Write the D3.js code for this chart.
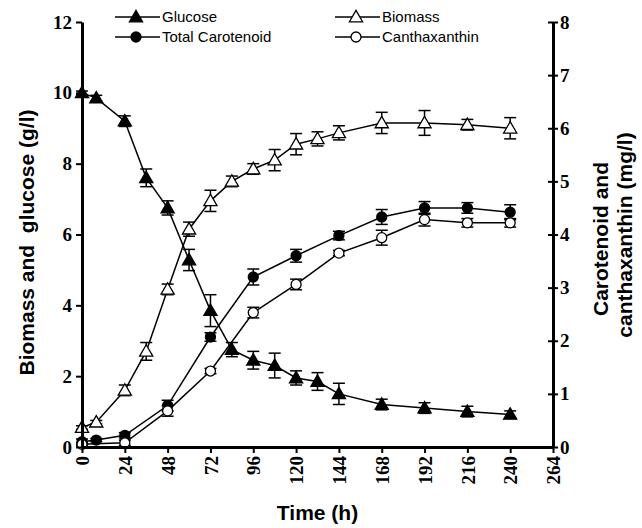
<!DOCTYPE html>
<html lang="en">
<head>
    <meta charset="utf-8">
    <title>Glucose, biomass and carotenoid time course</title>
    <script src="https://cdn.jsdelivr.net/npm/d3@7"></script>
    <style type="text/css">
        body { margin: 0; background: white; }
        .tick text { font-family: "Liberation Serif", "Times New Roman", serif; font-weight: bold; font-size: 19px; fill: black; }
    </style>
</head>
<body>
<script type="text/javascript">

    // data
    var time = [0, 8, 24, 36, 48, 60, 72, 84, 96, 108, 120, 132, 144, 168, 192, 216, 240];
    var glucose = [10, 9.85, 9.2, 7.6, 6.75, 5.28, 3.85, 2.75, 2.45, 2.3, 1.95, 1.85, 1.5, 1.2, 1.1, 1.0, 0.92];
    var glucoseErr = [0.05, 0.08, 0.15, 0.25, 0.2, 0.3, 0.45, 0.2, 0.25, 0.35, 0.2, 0.25, 0.3, 0.15, 0.15, 0.15, 0.1];
    var biomass = [0.55, 0.7, 1.6, 2.7, 4.45, 6.15, 6.95, 7.5, 7.85, 8.1, 8.55, 8.7, 8.87, 9.15, 9.15, 9.1, 9.0];
    var biomassErr = [0.05, 0.05, 0.15, 0.25, 0.15, 0.2, 0.3, 0.15, 0.15, 0.3, 0.3, 0.2, 0.2, 0.3, 0.35, 0.15, 0.3];

    var caroTime = [0, 8, 24, 48, 72, 96, 120, 144, 168, 192, 216, 240];
    var carotenoid = [0.1, 0.13, 0.22, 0.78, 2.07, 3.2, 3.6, 3.98, 4.33, 4.5, 4.5, 4.42];
    var carotenoidErr = [0.05, 0.03, 0.05, 0.1, 0.08, 0.15, 0.12, 0.08, 0.14, 0.12, 0.1, 0.14];

    var canthTime = [0, 24, 48, 72, 96, 120, 144, 168, 192, 216, 240];
    var canthaxanthin = [0.05, 0.08, 0.68, 1.43, 2.53, 3.06, 3.65, 3.94, 4.28, 4.22, 4.22];
    var canthaxanthinErr = [0.03, 0.05, 0.1, 0.05, 0.1, 0.1, 0.05, 0.14, 0.12, 0.08, 0.08];

    var xTicks = [0, 24, 48, 72, 96, 120, 144, 168, 192, 216, 240, 264];
    var leftTicks = [0, 2, 4, 6, 8, 10, 12];
    var rightTicks = [0, 1, 2, 3, 4, 5, 6, 7, 8];

    var width = 642, height = 528;
    var plotLeft = 82, plotRight = 553, plotTop = 22, plotBottom = 447;

    var svg = d3.select("body")
        .append("svg")
        .attr("width", width)
        .attr("height", height)
        .style("background", "white");

    var x = d3.scaleLinear().domain([0, 264]).range([plotLeft, plotRight]);
    var yL = d3.scaleLinear().domain([0, 12]).range([plotBottom, plotTop]);
    var yR = d3.scaleLinear().domain([0, 8]).range([plotBottom, plotTop]);

    function zip(t, v, e) {
        return t.map(function (d, i) { return {t: d, v: v[i], e: e[i]}; });
    }

    var series = [
        {name: "Glucose", data: zip(time, glucose, glucoseErr), y: yL, marker: "tri", fill: "black"},
        {name: "Biomass", data: zip(time, biomass, biomassErr), y: yL, marker: "tri", fill: "white"},
        {name: "Total Carotenoid", data: zip(caroTime, carotenoid, carotenoidErr), y: yR, marker: "circle", fill: "black"},
        {name: "Canthaxanthin", data: zip(canthTime, canthaxanthin, canthaxanthinErr), y: yR, marker: "circle", fill: "white"}
    ];

    var triangle = d3.symbol().type(d3.symbolTriangle).size(75);

    function drawMarker(g, s) {
        if (s.marker === "tri") {
            g.append("path")
                .attr("d", triangle)
                .attr("transform", "translate(0,1)")
                .attr("fill", s.fill)
                .attr("stroke", "black")
                .attr("stroke-width", 1.3);
        } else {
            g.append("circle")
                .attr("r", 5)
                .attr("fill", s.fill)
                .attr("stroke", "black")
                .attr("stroke-width", 1.3);
        }
    }

    // series lines, error bars and markers
    series.forEach(function (s) {
        var line = d3.line()
            .x(function (d) { return x(d.t); })
            .y(function (d) { return s.y(d.v); });

        svg.append("path")
            .datum(s.data)
            .attr("d", line)
            .attr("fill", "none")
            .attr("stroke", "black")
            .attr("stroke-width", 1.5);

        var bars = svg.append("g").selectAll("g")
            .data(s.data)
            .enter()
            .append("g")
            .attr("stroke", "black")
            .attr("stroke-width", 1.5);
        bars.append("line")
            .attr("x1", function (d) { return x(d.t); })
            .attr("x2", function (d) { return x(d.t); })
            .attr("y1", function (d) { return s.y(d.v - d.e); })
            .attr("y2", function (d) { return s.y(d.v + d.e); });
        bars.append("line")
            .attr("x1", function (d) { return x(d.t) - 6; })
            .attr("x2", function (d) { return x(d.t) + 6; })
            .attr("y1", function (d) { return s.y(d.v + d.e); })
            .attr("y2", function (d) { return s.y(d.v + d.e); });
        bars.append("line")
            .attr("x1", function (d) { return x(d.t) - 6; })
            .attr("x2", function (d) { return x(d.t) + 6; })
            .attr("y1", function (d) { return s.y(d.v - d.e); })
            .attr("y2", function (d) { return s.y(d.v - d.e); });

        svg.append("g").selectAll("g")
            .data(s.data)
            .enter()
            .append("g")
            .attr("transform", function (d) {
                return "translate(" + x(d.t) + "," + s.y(d.v) + ")";
            })
            .each(function () { drawMarker(d3.select(this), s); });
    });

    // axes
    var xAxis = svg.append("g")
        .attr("transform", "translate(0," + plotBottom + ")")
        .call(d3.axisBottom(x).tickValues(xTicks).tickSize(6).tickSizeOuter(0));
    xAxis.selectAll(".tick text")
        .attr("transform", "rotate(-90)")
        .attr("x", -9)
        .attr("y", 0)
        .attr("dy", "0.35em")
        .style("text-anchor", "end");

    var leftAxis = svg.append("g")
        .attr("transform", "translate(" + plotLeft + ",0)")
        .call(d3.axisLeft(yL).tickValues(leftTicks).tickSize(6).tickSizeOuter(0));
    leftAxis.selectAll(".tick text").attr("x", -10);

    var rightAxis = svg.append("g")
        .attr("transform", "translate(" + plotRight + ",0)")
        .call(d3.axisRight(yR).tickValues(rightTicks).tickSize(5).tickSizeOuter(0));
    rightAxis.selectAll(".tick line").attr("x1", -5);
    rightAxis.selectAll(".tick text").attr("x", 7);

    svg.selectAll(".domain").attr("stroke-width", 3);
    svg.selectAll(".tick line").attr("stroke-width", 2);

    // axis titles
    svg.append("text")
        .attr("transform", "translate(34," + ((plotTop + plotBottom) / 2 + 8) + ") rotate(-90)")
        .style("text-anchor", "middle")
        .style("white-space", "pre")
        .attr("font-family", "Liberation Sans, Arial, sans-serif")
        .attr("font-weight", "bold")
        .attr("font-size", "21px")
        .text("Biomass and  glucose (g/l)");

    svg.append("text")
        .attr("transform", "translate(608,239) rotate(-90)")
        .style("text-anchor", "middle")
        .attr("font-family", "Liberation Sans, Arial, sans-serif")
        .attr("font-weight", "bold")
        .attr("font-size", "21px")
        .text("Carotenoid and");
    svg.append("text")
        .attr("transform", "translate(632,235) rotate(-90)")
        .style("text-anchor", "middle")
        .attr("font-family", "Liberation Sans, Arial, sans-serif")
        .attr("font-weight", "bold")
        .attr("font-size", "21px")
        .text("canthaxanthin (mg/l)");

    svg.append("text")
        .attr("x", (plotLeft + plotRight) / 2)
        .attr("y", 520)
        .style("text-anchor", "middle")
        .attr("font-family", "Liberation Sans, Arial, sans-serif")
        .attr("font-weight", "bold")
        .attr("font-size", "21px")
        .text("Time (h)");

    // legend
    var legendPos = [[115, 17], [335, 17], [115, 37], [335, 37]];
    series.forEach(function (s, i) {
        var g = svg.append("g")
            .attr("transform", "translate(" + legendPos[i][0] + "," + legendPos[i][1] + ")");
        g.append("line")
            .attr("x1", 0).attr("x2", 45)
            .attr("stroke", "black")
            .attr("stroke-width", 1.5);
        var m = g.append("g").attr("transform", "translate(21,0)");
        drawMarker(m, s);
        g.append("text")
            .attr("x", 47)
            .attr("dy", "0.35em")
            .attr("font-family", "Liberation Sans, Arial, sans-serif")
            .attr("font-size", "15px")
            .text(s.name);
    });

</script>
</body>
</html>
